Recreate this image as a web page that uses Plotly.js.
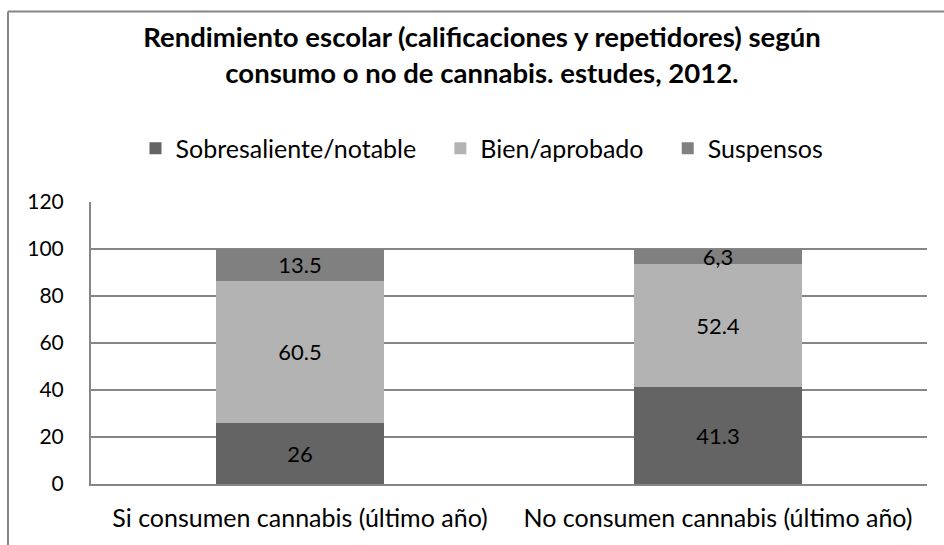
<!DOCTYPE html>
<html>
<head>
<meta charset="utf-8">
<script src="https://cdn.plot.ly/plotly-3.0.1.min.js"></script>
<style>html,body{margin:0;padding:0;background:#fff;}#chart{width:944px;height:545px;}</style>
</head>
<body>
<div id="chart"></div>
<script>
const categories = ["Si consumen cannabis (último año)", "No consumen cannabis (último año)"];
const seriesNames = ["Sobresaliente/notable", "Bien/aprobado", "Suspensos"];
const sobresaliente = [26, 41.3];
const bien = [60.5, 52.4];
const suspensos = [13.5, 6.3];
const sobresalienteLabels = ["26", "41.3"];
const bienLabels = ["60.5", "52.4"];
const suspensosLabels = ["13.5", "6,3"];
const yTicks = [0, 20, 40, 60, 80, 100, 120];

const FONT = "Lato, 'Open Sans', sans-serif";
const colors = ["#646464", "#b3b3b3", "#808080"];
const values = [sobresaliente, bien, suspensos];
const labels = [sobresalienteLabels, bienLabels, suspensosLabels];
const PAD = "\u00a0\u00a0\u00a0";

const traces = seriesNames.map((name, i) => ({
  type: "bar",
  name: i < seriesNames.length - 1 ? name + PAD : name,
  x: categories,
  y: values[i],
  text: labels[i],
  textposition: "inside",
  insidetextanchor: "middle",
  constraintext: "none",
  textfont: {family: FONT, size: 22, color: "#000"},
  marker: {color: colors[i], line: {width: 0}},
  hoverinfo: "none"
}));

const layout = {
  width: 944, height: 545,
  margin: {l: 91, r: 17, t: 202, b: 61},
  paper_bgcolor: "#fff", plot_bgcolor: "#fff",
  barmode: "stack",
  bargap: 0.6,
  font: {family: FONT, size: 21, color: "#000"},
  title: {
    text: "<b>Rendimiento escolar (calificaciones y repetidores) según<br>consumo o no de cannabis. estudes, 2012.</b>",
    font: {family: FONT, size: 27.5, color: "#000"},
    x: 0.4677, xanchor: "center", xref: "paper",
    y: 0.9138, yanchor: "top", yref: "container"
  },
  showlegend: true,
  legend: {
    orientation: "h",
    x: 0.4677, xanchor: "center",
    y: 1.19, yanchor: "middle",
    font: {family: FONT, size: 25, color: "#000"},
    traceorder: "normal",
    bgcolor: "rgba(0,0,0,0)"
  },
  xaxis: {
    type: "category",
    showgrid: false,
    showline: true, linecolor: "#868686", linewidth: 2,
    ticks: "",
    ticklabelstandoff: 11,
    tickfont: {family: FONT, size: 25, color: "#000"},
    fixedrange: true
  },
  yaxis: {
    range: [0, 120],
    tickvals: yTicks,
    ticktext: yTicks.map(String),
    showgrid: true, gridcolor: "#868686", gridwidth: 2,
    zeroline: false,
    showline: true, linecolor: "#868686", linewidth: 2,
    ticks: "",
    ticklabelstandoff: 21,
    tickfont: {family: FONT, size: 21, color: "#000"},
    fixedrange: true
  },
  shapes: [
    {type: "line", xref: "paper", yref: "paper", x0: -0.0993, x1: 1.1, y0: 1.6755, y1: 1.6755, line: {color: "#868686", width: 2}},
    {type: "line", xref: "paper", yref: "paper", x0: -0.0993, x1: -0.0993, y0: 1.6755, y1: -0.3, line: {color: "#868686", width: 2}}
  ]
};

Plotly.newPlot("chart", traces, layout, {displayModeBar: false, staticPlot: true});
</script>
</body>
</html>
